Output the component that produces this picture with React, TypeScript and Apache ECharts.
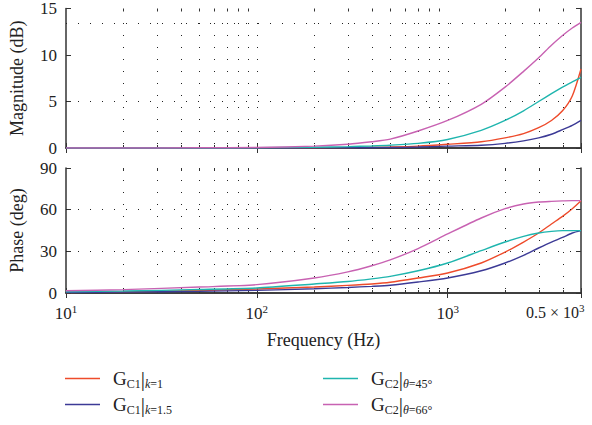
import React, { useEffect, useRef } from 'react';
import * as echarts from 'echarts';

const freq = [10, 20, 50, 100, 200, 300, 400, 500, 700, 1000, 1500, 2000, 2500, 3000, 3500, 4000, 4500, 5000];

const magK1 = [0, 0, 0, 0.01, 0.03, 0.05, 0.08, 0.11, 0.2, 0.4, 0.67, 1.09, 1.55, 2.18, 2.96, 4.0, 5.6, 8.5];
const magK15 = [0, 0, 0, 0, 0.01, 0.02, 0.03, 0.05, 0.1, 0.2, 0.3, 0.5, 0.77, 1.09, 1.48, 1.97, 2.43, 2.96];
const magT45 = [0, 0, 0, 0.02, 0.08, 0.15, 0.22, 0.3, 0.5, 0.92, 1.9, 2.96, 4.0, 5.0, 5.85, 6.55, 7.1, 7.6];
const magT66 = [0, 0, 0.02, 0.05, 0.2, 0.4, 0.67, 0.95, 1.83, 2.96, 4.7, 6.55, 8.24, 9.7, 11.05, 12.1, 12.9, 13.5];

const phK1 = [0.4, 0.8, 1.8, 2.9, 4.3, 5.5, 6.5, 7.7, 10.8, 14.4, 21.6, 29.5, 36.7, 43.2, 49.7, 55.2, 60.7, 66.5];
const phK15 = [0.3, 0.6, 1.2, 1.9, 3.1, 4.0, 4.8, 5.6, 7.9, 10.8, 16, 21.6, 27.1, 32.4, 36.7, 40, 43.2, 44.9];
const phT45 = [0.9, 1.4, 2.5, 3.6, 6.5, 8.3, 10.2, 12, 16, 21.6, 30.5, 36.7, 40.8, 43.2, 44.4, 44.9, 44.9, 44.9];
const phT66 = [1.6, 2.4, 4.3, 6, 10.8, 15.2, 19.6, 23.8, 32, 42.5, 54, 60.7, 64.1, 65.5, 66, 66.3, 66.5, 66.5];

const gridFreqs = [20, 30, 40, 50, 60, 70, 80, 90, 100, 200, 300, 400, 500, 600, 700, 800, 900, 1000, 2000, 3000, 4000];
const magGridLines = [5, 13.4];
const phGridLines = [30, 60];

const names = ['k1', 'k15', 't45', 't66'];
const colors = ['#EE4B2B', '#3C3A96', '#1FB5AE', '#C862B2'];
const magData = [magK1, magK15, magT45, magT66];
const phData = [phK1, phK15, phT45, phT66];

const SERIF = "'Liberation Serif', 'DejaVu Serif', serif";
const AX = '#333';

const legendLabels: Record<string, string> = {
  k1: '{sp|}{g|G}{sub|C1}{bar||}{subi|k}{sub|=1}',
  k15: '{sp|}{g|G}{sub|C1}{bar||}{subi|k}{sub|=1.5}',
  t45: '{sp|}{g|G}{sub|C2}{bar||}{subi|θ}{sub|=45°}',
  t66: '{sp|}{g|G}{sub|C2}{bar||}{subi|θ}{sub|=66°}',
};
const legendPos: Record<string, [number, number]> = {
  k1: [65, 368],
  k15: [65, 394],
  t45: [323, 368],
  t66: [323, 394],
};

function xAxisDef(gridIndex: number, position: 'top' | 'bottom', showLabels: boolean) {
  return {
    type: 'log',
    logBase: 10,
    min: 10,
    max: 5000,
    gridIndex,
    position,
    axisLine: { show: true, lineStyle: { color: AX, width: 1.5 } },
    axisTick: { show: true, inside: true, length: 5, lineStyle: { color: AX } },
    splitLine: { show: false },
    minorTick: { show: false },
    axisLabel: {
      show: showLabels,
      margin: 10,
      formatter: (v: number) => {
        const e = Math.round(Math.log10(v));
        if (Math.abs(Math.pow(10, e) - v) > 1e-6) return '';
        return '{b|10}{s|' + e + '}';
      },
      rich: {
        b: { fontFamily: SERIF, fontSize: 17, color: '#222' },
        s: { fontFamily: SERIF, fontSize: 11, color: '#222', padding: [0, 0, 10, 0] },
      },
    },
    name: showLabels ? 'Frequency (Hz)' : '',
    nameLocation: 'middle',
    nameGap: 38,
    nameTextStyle: { fontFamily: SERIF, fontSize: 18, color: '#222' },
  };
}

function yAxisDef(gridIndex: number, position: 'left' | 'right', max: number, interval: number, name: string) {
  const left = position === 'left';
  return {
    type: 'value',
    gridIndex,
    position,
    min: 0,
    max,
    interval,
    axisLine: { show: true, lineStyle: { color: AX, width: 1.5 } },
    axisTick: { show: true, inside: true, length: 5, lineStyle: { color: AX } },
    splitLine: { show: false },
    axisLabel: { show: left, margin: 9, fontFamily: SERIF, fontSize: 17, color: '#222' },
    name: left ? name : '',
    nameLocation: 'middle',
    nameGap: 40,
    nameTextStyle: { fontFamily: SERIF, fontSize: 18, color: '#222' },
  };
}

function gridSeries(xi: number, yi: number) {
  return {
    type: 'custom',
    xAxisIndex: xi,
    yAxisIndex: yi,
    silent: true,
    z: 1,
    data: gridFreqs.map((f) => [f, f === 100 || f === 1000 ? 0 : 3]),
    renderItem: (params: any, api: any) => {
      const cs = params.coordSys;
      const px = Math.round(api.coord([api.value(0), 0])[0]) + 0.5;
      const len = api.value(1);
      const children: any[] = [
        {
          type: 'line',
          shape: { x1: px, y1: cs.y + cs.height - 4, x2: px, y2: cs.y + 6 },
          style: { stroke: '#222', lineWidth: 1, lineDash: [1, 11] },
        },
      ];
      if (len > 0) {
        children.push(
          { type: 'line', shape: { x1: px, y1: cs.y + cs.height, x2: px, y2: cs.y + cs.height - len }, style: { stroke: AX, lineWidth: 1 } },
          { type: 'line', shape: { x1: px, y1: cs.y, x2: px, y2: cs.y + len }, style: { stroke: AX, lineWidth: 1 } }
        );
      }
      return { type: 'group', children };
    },
  };
}

function lineSeries(i: number, values: number[], xi: number, yi: number, hLines: number[] | null) {
  const s: any = {
    name: names[i],
    type: 'line',
    xAxisIndex: xi,
    yAxisIndex: yi,
    data: freq.map((f, k) => [f, values[k]]),
    smooth: 0.25,
    symbol: 'none',
    z: 3,
    lineStyle: { color: colors[i], width: 1.4 },
    itemStyle: { color: colors[i] },
  };
  if (hLines) {
    s.markLine = {
      silent: true,
      symbol: ['none', 'none'],
      label: { show: false },
      lineStyle: { color: '#222', width: 1, type: [1, 11] },
      data: hLines.map((v) => ({ yAxis: v })),
    };
  }
  return s;
}

const legendRich = {
  sp: { width: 8 },
  g: { fontFamily: SERIF, fontSize: 19, color: '#222' },
  sub: { fontFamily: SERIF, fontSize: 12, color: '#222', padding: [10, 0, 0, 0] },
  subi: { fontFamily: SERIF, fontSize: 12, fontStyle: 'italic', color: '#222', padding: [10, 0, 0, 0] },
  bar: { fontFamily: SERIF, fontSize: 21, color: '#222' },
};

export default function App() {
  const ref = useRef<HTMLDivElement>(null);
  useEffect(() => {
    if (!ref.current) return;
    const chart = echarts.init(ref.current, undefined, { renderer: 'svg' });
    const series: any[] = [gridSeries(0, 0), gridSeries(2, 2)];
    for (let i = 0; i < 4; i++) {
      series.push(lineSeries(i, magData[i], 0, 0, i === 0 ? magGridLines : null));
      series.push(lineSeries(i, phData[i], 2, 2, i === 0 ? phGridLines : null));
    }
    chart.setOption({
      animation: false,
      backgroundColor: '#fff',
      grid: [
        { left: 64, top: 6, width: 517, height: 142 },
        { left: 64, top: 168, width: 517, height: 125 },
      ],
      xAxis: [
        xAxisDef(0, 'bottom', false),
        xAxisDef(0, 'top', false),
        xAxisDef(1, 'bottom', true),
        xAxisDef(1, 'top', false),
      ],
      yAxis: [
        yAxisDef(0, 'left', 15, 5, 'Magnitude (dB)'),
        yAxisDef(0, 'right', 15, 5, ''),
        yAxisDef(1, 'left', 90, 30, 'Phase (deg)'),
        yAxisDef(1, 'right', 90, 30, ''),
      ],
      legend: names.map((n) => ({
        data: [n],
        orient: 'horizontal',
        left: legendPos[n][0],
        top: legendPos[n][1],
        padding: 0,
        itemWidth: 35,
        itemHeight: 1.5,
        icon: 'rect',
        formatter: (nm: string) => legendLabels[nm],
        textStyle: { rich: legendRich },
      })),
      graphic: [
        {
          type: 'text',
          left: 526,
          top: 302,
          style: {
            text: '{b|0.5 × 10}{s|3}',
            rich: {
              b: { fontFamily: SERIF, fontSize: 16, fill: '#222' },
              s: { fontFamily: SERIF, fontSize: 11, fill: '#222', padding: [0, 0, 10, 0] },
            },
          },
        },
      ],
      series,
    });
    return () => chart.dispose();
  }, []);
  return (
    <div
      ref={ref}
      style={{ position: 'absolute', left: 0, top: 0, width: 592, height: 425, background: '#fff' }}
    />
  );
}
